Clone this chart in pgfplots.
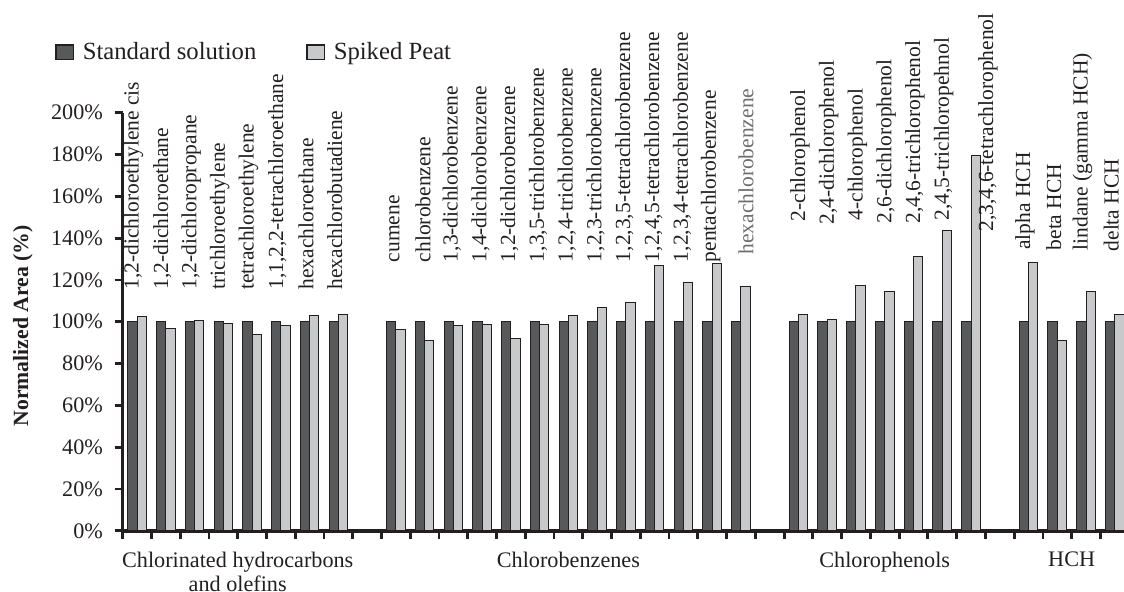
\documentclass[border=0pt]{standalone}
\usepackage{fontspec}
\setmainfont{Liberation Serif}
\usepackage{pgfplots}
\pgfplotsset{compat=1.18}
\usepackage{pgfplotstable}
\definecolor{stdc}{HTML}{58595B}
\definecolor{spkc}{HTML}{C8C9CB}
\definecolor{ink}{HTML}{231F20}
\definecolor{lgray}{HTML}{6D6E70}

\pgfplotstableread{
idx std spk
0 100 102.3
1 100 96.7
2 100 100.4
3 100 99.3
4 100 93.7
5 100 98.0
6 100 103.0
7 100 103.6
9 100 96.1
10 100 91.1
11 100 98.0
12 100 98.5
13 100 91.8
14 100 98.5
15 100 103.0
16 100 106.8
17 100 109.2
18 100 126.8
19 100 118.6
20 100 128.0
21 100 116.7
23 100 103.6
24 100 101.2
25 100 117.5
26 100 114.3
27 100 131.3
28 100 143.7
29 100 179.5
31 100 128.2
32 100 91.1
33 100 114.3
34 100 103.6
}\datatab

\begin{document}
\begin{tikzpicture}[lbl/.style={rotate=90, anchor=west, inner sep=0pt, font=\fontsize{10.75}{12}\selectfont, text=ink}]
\begin{axis}[
  scale only axis, width=500.65pt, height=209.05pt,
  xmin=-0.5, xmax=34.32, ymin=0, ymax=200,
  axis lines=left,
  axis line style={-, line width=1.8pt, ink},
  clip=false,
  xtick={-0.5,0.5,...,33.5},
  xticklabels={},
  ytick={0,20,...,200},
  yticklabels={0\%,20\%,40\%,60\%,80\%,100\%,120\%,140\%,160\%,180\%,200\%},
  tick align=outside, major tick length=4pt,
  tick style={line width=1.4pt, ink},
  yticklabel style={font=\fontsize{11.1}{13}\selectfont, text=ink, inner sep=0pt, anchor=east, xshift=-5.7pt},
  extra x ticks={3.5,15,26,32.5},
  extra x tick labels={{Chlorinated hydrocarbons\\and olefins},Chlorobenzenes,Chlorophenols,HCH},
  extra x tick style={major tick length=0pt, tick style={draw=none},
    xticklabel style={font=\fontsize{11.1}{12}\selectfont, text=ink, align=center, anchor=north, inner sep=0pt, yshift=-10.25pt}},
  ylabel={Normalized Area (\%)},
  ylabel style={at={(axis description cs:-0.0996,0.49)}, anchor=center, font=\bfseries\fontsize{10.85}{12}\selectfont, text=ink},
  legend columns=2,
  legend style={draw=none, fill=none, inner sep=0pt, at={(axis description cs:-0.0676,1.144)}, anchor=west,
    font=\fontsize{12.35}{14}\selectfont, text=ink,
    nodes={inner sep=0pt},
    /tikz/every odd column/.append style={column sep=4.5pt},
    /tikz/every even column/.append style={column sep=25pt}},
]
\addplot[ybar, bar width=4.65pt, bar shift=-2.325pt, fill=stdc, draw=ink, line width=0.5pt,
  legend image code/.code={\draw[fill=stdc, draw=ink, line width=0.6pt] (0pt,-3.7pt) rectangle (8.6pt,3.7pt);}]
  table[x=idx, y=std] {\datatab};
\addlegendentry{Standard solution}
\addplot[ybar, bar width=4.65pt, bar shift=2.325pt, fill=spkc, draw=ink, line width=0.5pt,
  legend image code/.code={\draw[fill=spkc, draw=ink, line width=0.6pt] (0pt,-3.7pt) rectangle (8.6pt,3.7pt);}]
  table[x=idx, y=spk] {\datatab};
\addlegendentry{Spiked Peat}

% group 1
\node[lbl] at ([xshift=-1.75pt]axis cs:0,115.19) {1,2-dichloroethylene cis};
\node[lbl] at ([xshift=-1.75pt]axis cs:1,115.19) {1,2-dichloroethane};
\node[lbl] at ([xshift=-1.75pt]axis cs:2,115.19) {1,2-dichloropropane};
\node[lbl] at ([xshift=-1.75pt]axis cs:3,115.19) {trichloroethylene};
\node[lbl] at ([xshift=-1.75pt]axis cs:4,115.19) {tetrachloroethylene};
\node[lbl] at ([xshift=-1.75pt]axis cs:5,115.19) {1,1,2,2-tetrachloroethane};
\node[lbl] at ([xshift=-1.75pt]axis cs:6,115.19) {hexachloroethane};
\node[lbl] at ([xshift=-1.75pt]axis cs:7,115.19) {hexachlorobutadiene};
% group 2
\node[lbl] at ([xshift=-0.75pt]axis cs:9,128.34) {cumene};
\node[lbl] at ([xshift=-0.75pt]axis cs:10,128.34) {chlorobenzene};
\node[lbl] at ([xshift=-0.75pt]axis cs:11,128.34) {1,3-dichlorobenzene};
\node[lbl] at ([xshift=-0.75pt]axis cs:12,128.34) {1,4-dichlorobenzene};
\node[lbl] at ([xshift=-0.75pt]axis cs:13,128.34) {1,2-dichlorobenzene};
\node[lbl] at ([xshift=-0.75pt]axis cs:14,128.34) {1,3,5-trichlorobenzene};
\node[lbl] at ([xshift=-0.75pt]axis cs:15,128.34) {1,2,4-trichlorobenzene};
\node[lbl] at ([xshift=-0.75pt]axis cs:16,128.34) {1,2,3-trichlorobenzene};
\node[lbl] at ([xshift=-0.75pt]axis cs:17,128.34) {1,2,3,5-tetrachlorobenzene};
\node[lbl] at ([xshift=-0.75pt]axis cs:18,128.34) {1,2,4,5-tetrachlorobenzene};
\node[lbl] at ([xshift=-0.75pt]axis cs:19,128.34) {1,2,3,4-tetrachlorobenzene};
\node[lbl] at ([xshift=-0.75pt]axis cs:20,128.34) {pentachlorobenzene};
\node[lbl, text=lgray] at ([xshift=2.5pt]axis cs:21,131.93) {hexachlorobenzene};
% group 3
\node[lbl] at ([xshift=0.75pt]axis cs:23,147.86) {2-chlorophenol};
\node[lbl] at ([xshift=0.75pt]axis cs:24,146.28) {2,4-dichlorophenol};
\node[lbl] at ([xshift=0.75pt]axis cs:25,148.34) {4-chlorophenol};
\node[lbl] at ([xshift=0.75pt]axis cs:26,146.76) {2,6-dichlorophenol};
\node[lbl] at ([xshift=0.75pt]axis cs:27,146.76) {2,4,6-trichlorophenol};
\node[lbl] at ([xshift=0.75pt]axis cs:28,148.19) {2,4,5-trichloropehnol};
\node[lbl] at ([xshift=8.5pt]axis cs:29,143.07) {2,3,4,6-tetrachlorophenol};
% group 4
\node[lbl] at ([xshift=-1.75pt]axis cs:31,134.32) {alpha HCH};
\node[lbl] at ([xshift=-1.75pt]axis cs:32,133.99) {beta HCH};
\node[lbl] at ([xshift=-1.75pt]axis cs:33,133.99) {lindane (gamma HCH)};
\node[lbl] at ([xshift=-1.75pt]axis cs:34,133.51) {delta HCH};
\end{axis}
\pgfresetboundingbox
\path (-61.35pt,-30.6pt) rectangle (500.65pt,265.4pt);
\end{tikzpicture}
\end{document}
